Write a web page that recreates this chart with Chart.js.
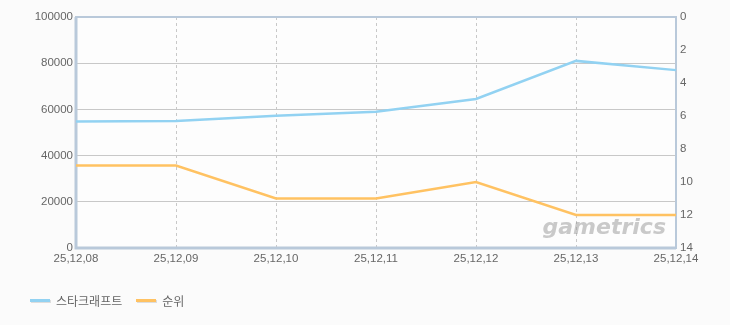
<!DOCTYPE html>
<html lang="ko">
<head>
<meta charset="UTF-8" />
<title>스타크래프트</title>
<script src="https://cdn.jsdelivr.net/npm/chart.js@4.4.1/dist/chart.umd.min.js"></script>
<style>
  html,body{margin:0;padding:0;background:#fbfbfb;}
  #wrap{position:relative;width:730px;height:325px;}
  #legend{position:absolute;left:30px;top:292px;font:12px "Noto Sans CJK KR",sans-serif;color:#666;display:flex;gap:0;}
  .item{display:flex;align-items:center;margin-right:14px;}
  .swatch{width:20px;height:3px;margin-right:6px;box-shadow:1px 1px 0 #ddd;}
</style>
</head>
<body>
<div id="wrap">
  <canvas id="c" width="730" height="325"></canvas>
  <div id="legend"></div>
</div>
<script>
const labels = ['25,12,08','25,12,09','25,12,10','25,12,11','25,12,12','25,12,13','25,12,14'];
const players = [54800, 55000, 57200, 59000, 64500, 81000, 77000];
const rank = [9, 9, 11, 11, 10, 12, 12];
const leftTicks = [0, 20000, 40000, 60000, 80000, 100000];
const rightTicks = [0, 2, 4, 6, 8, 10, 12, 14];

const BLUE = '#92d2f2', ORANGE = '#ffc262', FRAME = '#b9c9da';
const numFont = {family: '"Liberation Sans", Arial, sans-serif', size: 11.5};

const frame = {
  id: 'frame',
  beforeDatasetsDraw(chart) {
    const {ctx, chartArea: a} = chart;
    ctx.save();
    ctx.strokeStyle = FRAME;
    ctx.lineWidth = 2;
    ctx.strokeRect(a.left, a.top, a.right - a.left, a.bottom - a.top);
    ctx.lineWidth = 3;
    ctx.beginPath();
    ctx.moveTo(a.left, a.top); ctx.lineTo(a.left, a.bottom); ctx.lineTo(a.right, a.bottom);
    ctx.stroke();
    // watermark
    ctx.font = 'italic bold 22px "DejaVu Sans", sans-serif';
    ctx.fillStyle = 'rgba(150,150,150,0.5)';
    ctx.textAlign = 'right';
    ctx.textBaseline = 'alphabetic';
    ctx.fillText('gametrics', a.right - 10, a.bottom - 14);
    ctx.restore();
  },
  beforeDraw(chart) {
    const {ctx, chartArea: a} = chart;
    ctx.save();
    ctx.fillStyle = '#fdfdfd';
    ctx.fillRect(a.left, a.top, a.right - a.left, a.bottom - a.top);
    ctx.restore();
  }
};

new Chart(document.getElementById('c'), {
  type: 'line',
  data: {
    labels,
    datasets: [
      {label: '스타크래프트', data: players, yAxisID: 'y', borderColor: BLUE, borderWidth: 2.5, pointRadius: 0, tension: 0},
      {label: '순위', data: rank, yAxisID: 'y1', borderColor: ORANGE, borderWidth: 2.5, pointRadius: 0, tension: 0}
    ]
  },
  options: {
    responsive: false,
    animation: false,
    layout: {padding: {top: 17, left: 0, right: 0, bottom: 0}},
    plugins: {legend: {display: false}, tooltip: {enabled: false}},
    scales: {
      x: {
        offset: false,
        grid: {color: '#c8c8c8', borderDash: [3, 3], drawTicks: false, lineWidth: 1},
        border: {display: false, dash: [3, 3]},
        ticks: {color: '#666', font: numFont, padding: 4, maxRotation: 0, autoSkip: false},
        afterFit(s) { s.height = 325 - 248; }
      },
      y: {
        position: 'left',
        min: 0, max: 100000,
        afterBuildTicks(s) { s.ticks = leftTicks.map(v => ({value: v})); },
        grid: {color: '#c8c8c8', drawTicks: false},
        border: {display: false},
        ticks: {color: '#666', font: numFont, padding: 3, callback: v => String(v)},
        afterFit(s) { s.width = 76; }
      },
      y1: {
        position: 'right',
        min: 0, max: 14, reverse: true,
        afterBuildTicks(s) { s.ticks = rightTicks.map(v => ({value: v})); },
        grid: {display: false, drawTicks: false},
        border: {display: false},
        ticks: {color: '#666', font: numFont, padding: 4, callback: v => String(v)},
        afterFit(s) { s.width = 54; }
      }
    }
  },
  plugins: [frame]
});

const legend = document.getElementById('legend');
[['스타크래프트', BLUE], ['순위', ORANGE]].forEach(([t, c]) => {
  const d = document.createElement('div');
  d.className = 'item';
  d.innerHTML = `<span class="swatch" style="background:${c}"></span><span>${t}</span>`;
  legend.appendChild(d);
});
</script>
</body>
</html>
